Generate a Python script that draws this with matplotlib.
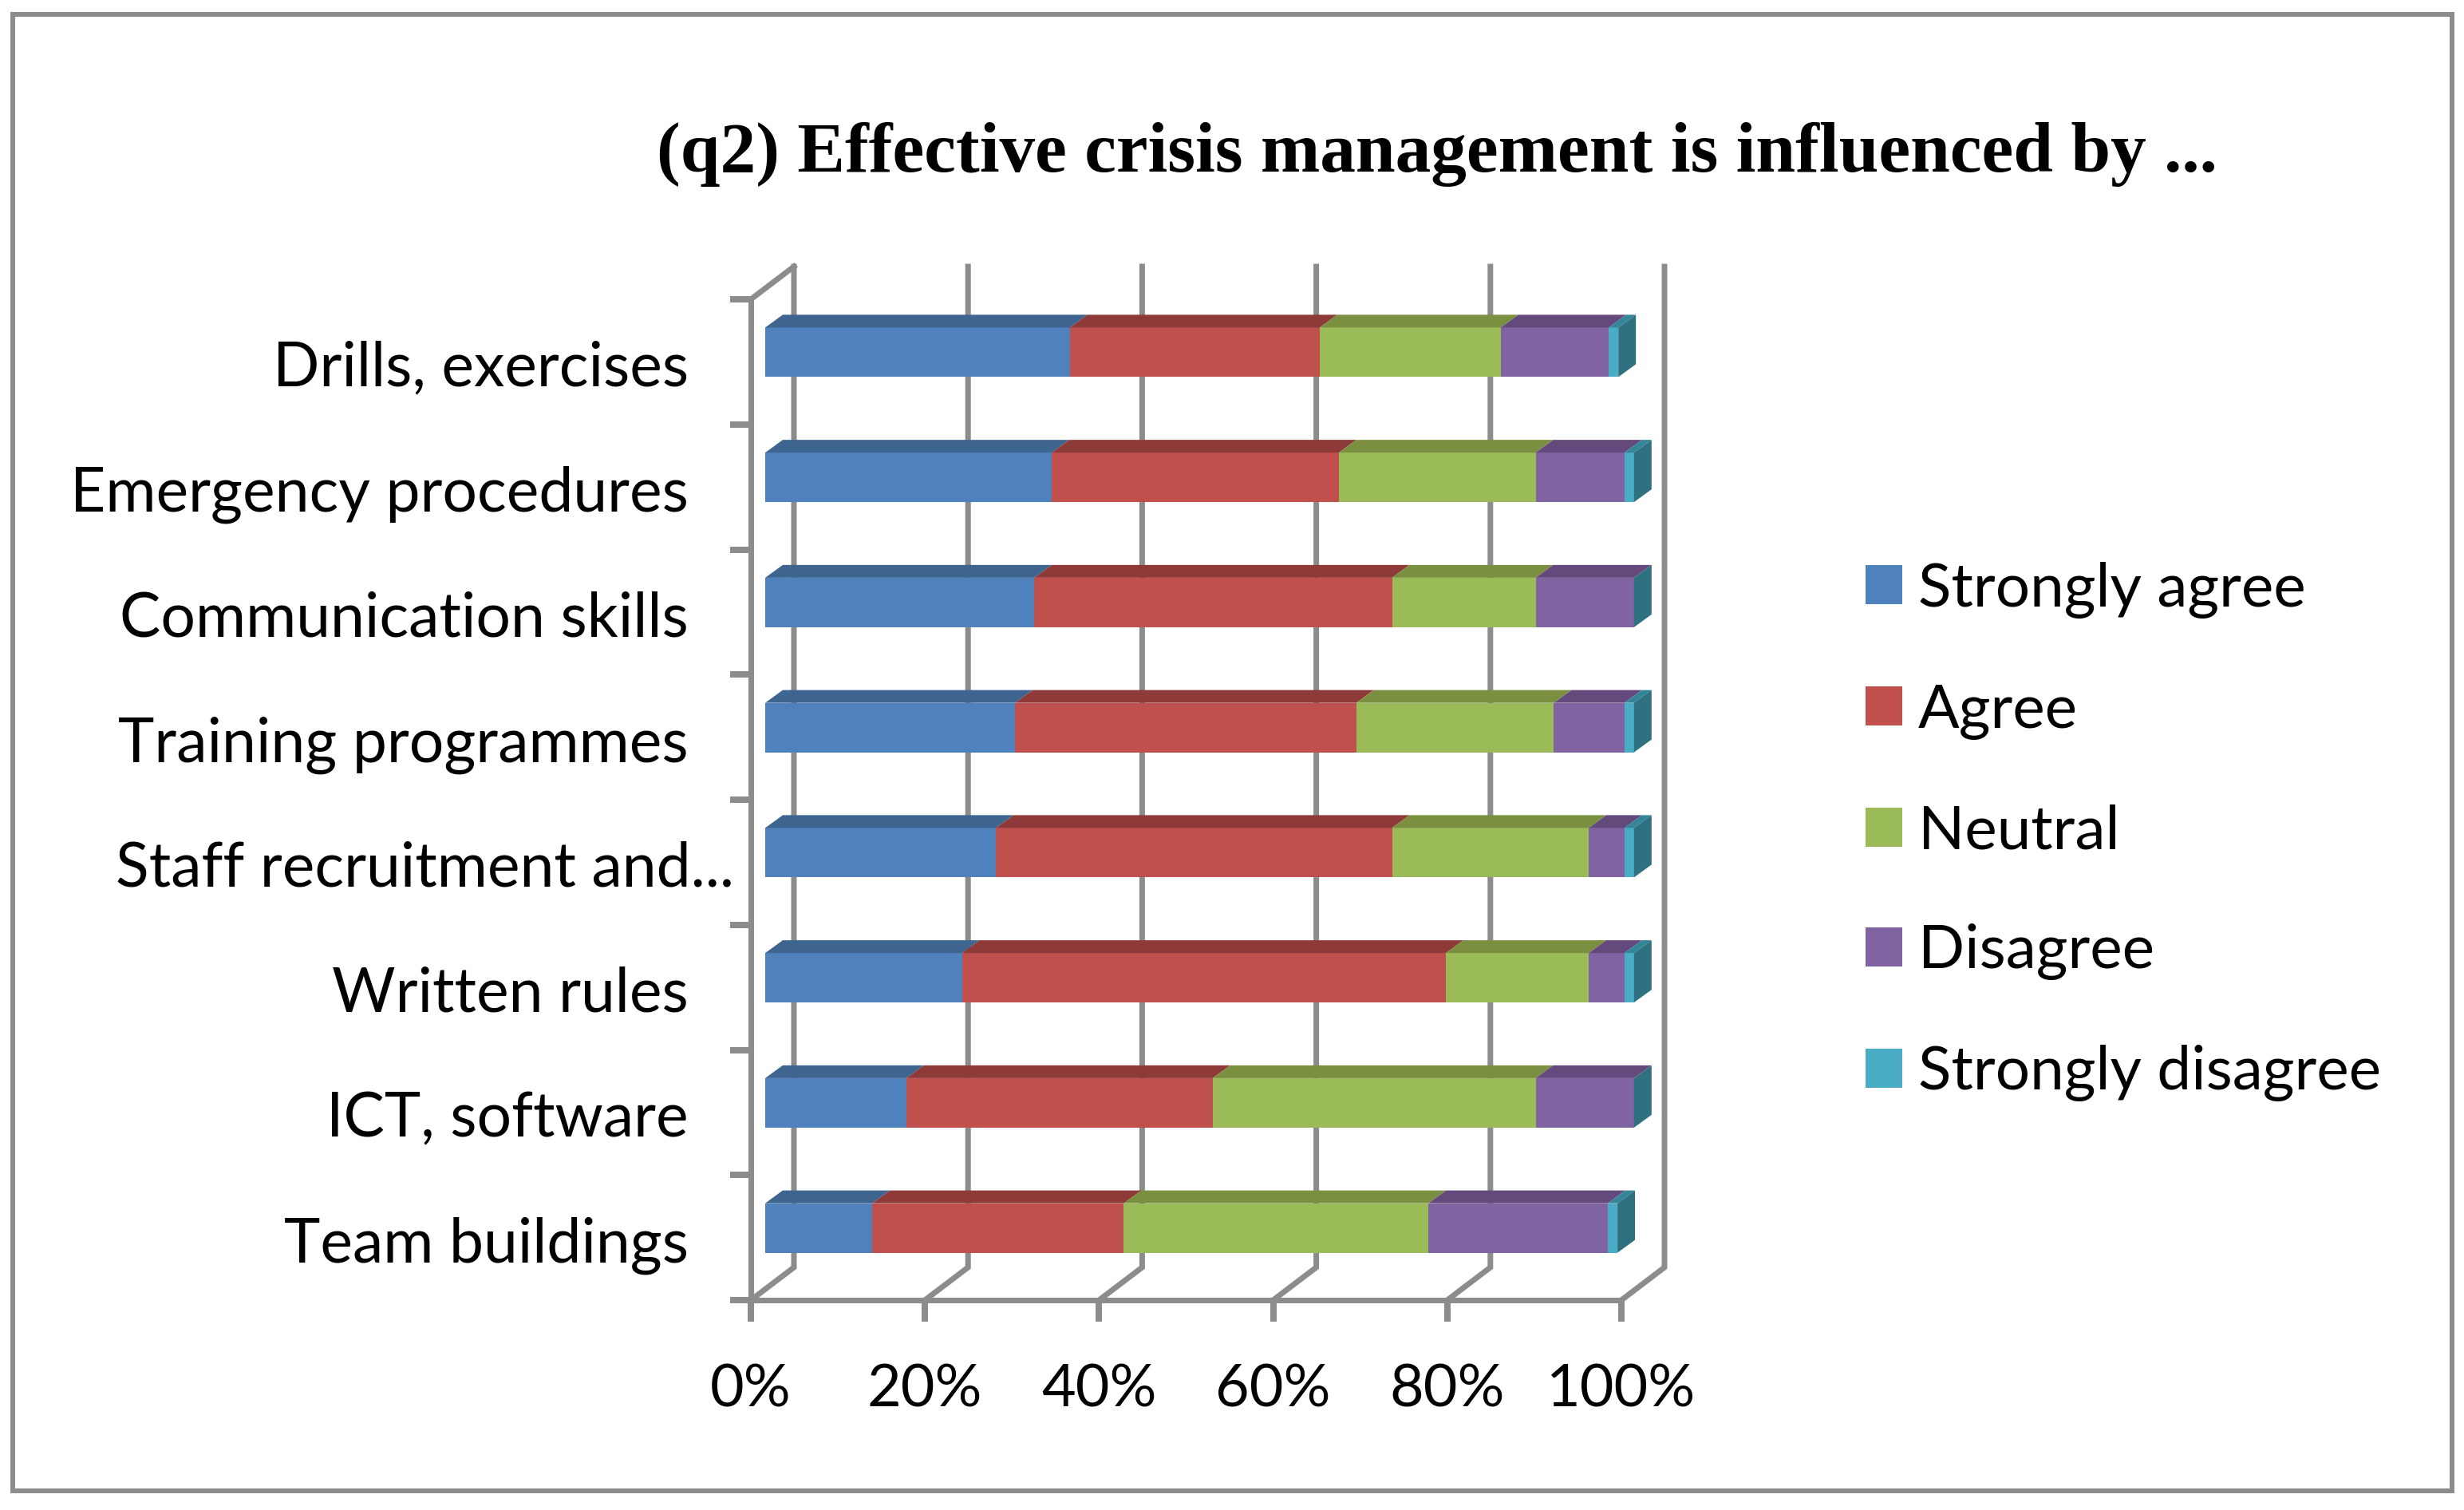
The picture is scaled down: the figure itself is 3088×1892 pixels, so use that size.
"""Stacked horizontal bars with a drawn-on 3D look, like an old Excel chart."""
import matplotlib
matplotlib.use('Agg')
import matplotlib.pyplot as plt
from matplotlib.patches import Patch, Polygon, Rectangle

plt.rcParams['font.family'] = ['Lato', 'DejaVu Sans']

categories = ['Drills, exercises', 'Emergency procedures', 'Communication skills',
              'Training programmes', 'Staff recruitment and...', 'Written rules',
              'ICT, software', 'Team buildings']
strongly_agree = [35.0, 32.9, 30.9, 28.7, 26.5, 22.6, 16.2, 12.3]
agree = [28.7, 33.0, 41.1, 39.2, 45.5, 55.6, 35.2, 28.9]
neutral = [20.8, 22.6, 16.5, 22.7, 22.6, 16.4, 37.1, 35.0]
disagree = [12.4, 10.2, 11.3, 8.1, 4.1, 4.1, 11.3, 20.6]
strongly_disagree = [1.1, 1.1, 0.0, 1.1, 1.1, 1.1, 0.0, 1.1]
series_names = ['Strongly agree', 'Agree', 'Neutral', 'Disagree', 'Strongly disagree']
series = [strongly_agree, agree, neutral, disagree, strongly_disagree]
colors = ['#4f81bd', '#c0504d', '#9bbb59', '#8064a2', '#4bacc6']
top_colors = ['#3e6490', '#8e3a38', '#7a8f3f', '#644a7c', '#33859a']
side_color = '#2f7180'
x_ticks = [0, 20, 40, 60, 80, 100]

W, H = 3088, 1892
AX_L, AX_R, AX_T, AX_B = 941, 2032, 375, 1629
GRAY = '#8c8c8c'
PX = 72 / 100  # pixels to points at dpi 100

fig = plt.figure(figsize=(W / 100, H / 100), dpi=100)
fig.add_artist(Rectangle((16 / W, 1 - 1868 / H), (3073 - 16) / W, (1868 - 18) / H,
                         transform=fig.transFigure, fill=False, ec=GRAY, lw=6 * PX))
ax = fig.add_axes([AX_L / W, 1 - AX_B / H, (AX_R - AX_L) / W, (AX_B - AX_T) / H])
ax.set_xlim(0, 100)
ax.set_ylim(0, len(categories))

# pixel distances turned into data units
ux = 100 / (AX_R - AX_L)
uy = len(categories) / (AX_B - AX_T)
wall_dx, wall_dy = 54 * ux, 41 * uy
bar_dx, bar_dy = 18 * ux, 12 * uy
depth_dx, depth_dy = 22 * ux, 16 * uy
bar_h = 62 * uy

# back wall and floor lines
for x in x_ticks:
    ax.plot([x, x + wall_dx, x + wall_dx], [0, wall_dy, len(categories) + wall_dy],
            color=GRAY, lw=7 * PX, clip_on=False, zorder=1, solid_joinstyle='miter')
ax.plot([0, wall_dx], [len(categories), len(categories) + wall_dy],
        color=GRAY, lw=7 * PX, clip_on=False, zorder=1)

n = len(categories)
for i in range(n):
    y = n - 1 - i + 0.5 + bar_dy
    left = bar_dx
    for values, c, tc in zip(series, colors, top_colors):
        w = values[i]
        ax.barh(y, w, height=bar_h, left=left, color=c, lw=0, zorder=3, clip_on=False)
        top = y + bar_h / 2
        ax.add_patch(Polygon([(left, top), (left + w, top),
                              (left + w + depth_dx, top + depth_dy),
                              (left + depth_dx, top + depth_dy)],
                             fc=tc, ec='none', zorder=3, clip_on=False))
        left += w
    bottom = y - bar_h / 2
    ax.add_patch(Polygon([(left, bottom), (left + depth_dx, bottom + depth_dy),
                          (left + depth_dx, top + depth_dy), (left, top)],
                         fc=side_color, ec='none', zorder=3, clip_on=False))

for side in ['top', 'right']:
    ax.spines[side].set_visible(False)
for side in ['left', 'bottom']:
    ax.spines[side].set_color(GRAY)
    ax.spines[side].set_linewidth(7 * PX)
    ax.spines[side].set_zorder(2)

ax.set_xticks(x_ticks)
ax.set_xticklabels([f'{x}%' for x in x_ticks])
ax.tick_params(axis='x', length=27 * PX, width=8 * PX, color=GRAY, labelsize=53,
               pad=52 * PX, labelcolor='black')
ax.set_yticks(range(n + 1))
ax.set_yticklabels([])
ax.tick_params(axis='y', length=26 * PX, width=8 * PX, color=GRAY)
ax.set_yticks([n - 1 - i + 0.5 - 2 * uy for i in range(n)], labels=categories, minor=True)
ax.tick_params(axis='y', which='minor', length=0, labelsize=55.4, pad=78 * PX)
# the truncated label runs closer to the axis
ax.yaxis.get_minor_ticks()[4].set_pad(21 * PX)

fig.text(1801 / W, 1 - 193 / H, '(q2) Effective crisis management is influenced by ...',
         family='Liberation Serif', fontweight='bold', fontsize=64.4, ha='center', va='center')

fs_px = 55 / PX
handles = [Patch(fc=c, ec='none') for c in colors]
fig.legend(handles, series_names, loc='center left', bbox_to_anchor=(2338 / W, 1 - 1042 / H),
           fontsize=55, frameon=False, borderpad=0, borderaxespad=0,
           handlelength=46 / fs_px, handleheight=46 / fs_px, handletextpad=20 / fs_px,
           labelspacing=1.06)

fig.savefig('out.png', dpi=100)
